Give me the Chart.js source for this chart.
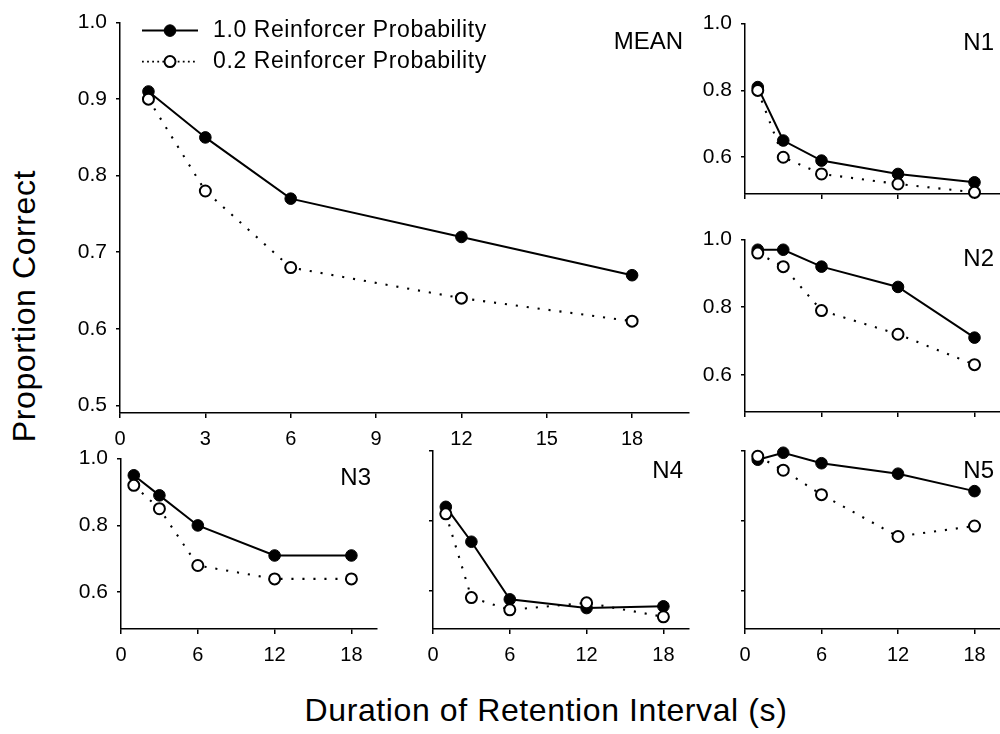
<!DOCTYPE html>
<html><head><meta charset="utf-8">
<script src="https://cdn.jsdelivr.net/npm/chart.js@4.4.1/dist/chart.umd.min.js"></script>
<style>
html,body{margin:0;padding:0;background:#fff;overflow:hidden;width:1000px;height:734px;}
#fig{position:relative;width:1000px;height:734px;overflow:hidden;background:#fff;}
#fig canvas{position:absolute;}
.title{position:absolute;font-family:"Liberation Sans",Arial,Helvetica,sans-serif;font-size:32px;line-height:1;color:#000;white-space:nowrap;letter-spacing:0.6px;}
</style></head><body>
<div id="fig">
<div class="title" style="left:546px;top:710px;transform:translate(-50%,-50%);">Duration of Retention Interval (s)</div>
<div class="title" style="left:24px;top:306px;transform:translate(-50%,-50%) rotate(-90deg);">Proportion Correct</div>
</div>
<script>
// ---- data ----
const intervals = [1, 3, 6, 12, 18];
const seriesLabels = ['1.0 Reinforcer Probability', '0.2 Reinforcer Probability'];

const meanP10 = [0.91, 0.85, 0.77, 0.72, 0.67];
const meanP02 = [0.90, 0.78, 0.68, 0.64, 0.61];
const n1P10 = [0.81, 0.65, 0.59, 0.55, 0.525];
const n1P02 = [0.80, 0.60, 0.55, 0.52, 0.495];
const n2P10 = [0.97, 0.97, 0.92, 0.86, 0.71];
const n2P02 = [0.96, 0.92, 0.79, 0.72, 0.63];
const n3P10 = [0.95, 0.89, 0.80, 0.71, 0.71];
const n3P02 = [0.92, 0.85, 0.68, 0.64, 0.64];
const n4P10 = [0.84, 0.74, 0.575, 0.55, 0.555];
const n4P02 = [0.82, 0.58, 0.545, 0.565, 0.525];
const n5P10 = [0.975, 0.995, 0.965, 0.935, 0.885];
const n5P02 = [0.985, 0.945, 0.875, 0.755, 0.785];

const meanXTicks = [0, 3, 6, 9, 12, 15, 18];
const panelXTicks = [0, 6, 12, 18];
const meanYTicks = [0.5, 0.6, 0.7, 0.8, 0.9, 1.0];
const panelYTicks = [0.6, 0.8, 1.0];

// ---- drawing ----
const FONT = '"Liberation Sans", Arial, Helvetica, sans-serif';
Chart.defaults.font.family = FONT;
Chart.defaults.color = '#000';
Chart.defaults.animation = false;

const PAD_L = 70, PAD_T = 14, PAD_R = 14, PAD_B = 50;

const panelLabelPlugin = {
  id: 'panelLabel',
  afterDraw(chart, args, opts) {
    const {ctx, chartArea: a} = chart;
    ctx.save();
    ctx.font = '24px ' + FONT;
    ctx.fillStyle = '#000';
    ctx.textAlign = 'right';
    ctx.textBaseline = 'middle';
    ctx.fillText(opts.text, a.right - 6, a.top + 20);
    ctx.restore();
  }
};

const insideLegendPlugin = {
  id: 'insideLegend',
  afterDraw(chart, args, opts) {
    if (!opts.show) return;
    const {ctx, chartArea: a} = chart;
    const ds = chart.data.datasets;
    const rows = [a.top + 8, a.top + 39];
    [ds[0], ds[1]].forEach((d, i) => {
      const y = rows[i];
      ctx.save();
      ctx.strokeStyle = '#000';
      ctx.lineWidth = i === 0 ? 2 : 1.8;
      ctx.setLineDash(i === 0 ? [] : [1.8, 3.3]);
      ctx.beginPath();
      ctx.moveTo(a.left + 22, y);
      ctx.lineTo(a.left + 78, y);
      ctx.stroke();
      ctx.setLineDash([]);
      ctx.beginPath();
      ctx.arc(a.left + 50, y, d.pointRadius, 0, Math.PI * 2);
      ctx.fillStyle = d.pointBackgroundColor;
      ctx.fill();
      ctx.lineWidth = d.pointBorderWidth;
      ctx.stroke();
      ctx.font = '23px ' + FONT;
      try { ctx.letterSpacing = '0.6px'; } catch (e) {}
      ctx.fillStyle = '#000';
      ctx.textAlign = 'left';
      ctx.textBaseline = 'middle';
      ctx.fillText(d.label, a.left + 93, y);
      ctx.restore();
    });
  }
};

function makePanel(cfg) {
  const {name, area, p10, p02, xTicks, yTicks, showX, showY, legend} = cfg;
  const w = area.right - area.left, h = area.bottom - area.top;
  const canvas = document.createElement('canvas');
  canvas.width = w + PAD_L + PAD_R;
  canvas.height = h + PAD_T + PAD_B;
  canvas.style.width = canvas.width + 'px';
  canvas.style.height = canvas.height + 'px';
  canvas.style.left = (area.left - PAD_L) + 'px';
  canvas.style.top = (area.top - PAD_T) + 'px';
  document.getElementById('fig').appendChild(canvas);

  const axisCommon = {
    type: 'linear',
    grid: {display: true, drawOnChartArea: false, drawTicks: true, color: '#000', lineWidth: 1.5},
    border: {display: true, color: '#000', width: 1.5},
  };

  return new Chart(canvas, {
    type: 'line',
    data: {
      datasets: [
        {
          label: seriesLabels[0],
          data: intervals.map((x, i) => ({x: x, y: p10[i]})),
          borderColor: '#000', backgroundColor: '#000', borderWidth: 2,
          pointRadius: 5.8, pointBorderWidth: 1, pointBackgroundColor: '#000', pointBorderColor: '#000',
          tension: 0, clip: false, order: 1
        },
        {
          label: seriesLabels[1],
          data: intervals.map((x, i) => ({x: x, y: p02[i]})),
          borderColor: '#000', backgroundColor: '#fff', borderWidth: 2.1, borderDash: [2.1, 8.9],
          pointRadius: 5.5, pointBorderWidth: 2, pointBackgroundColor: '#fff', pointBorderColor: '#000',
          tension: 0, clip: false, order: 0
        }
      ]
    },
    options: {
      responsive: false,
      animation: false,
      events: [],
      layout: {padding: {left: 0, top: PAD_T, right: PAD_R, bottom: 0}},
      plugins: {
        legend: {display: false},
        tooltip: {enabled: false},
        panelLabel: {text: name},
        insideLegend: {show: !!legend}
      },
      scales: {
        x: Object.assign({}, axisCommon, {
          min: 0, max: 20,
          grid: Object.assign({}, axisCommon.grid, {tickLength: 5}),
          afterBuildTicks: s => { s.ticks = xTicks.map(v => ({value: v})); },
          afterFit: s => { s.height = PAD_B; },
          ticks: {display: showX, font: {size: 20}, padding: 9, maxRotation: 0, autoSkip: false,
                  callback: v => String(v)}
        }),
        y: Object.assign({}, axisCommon, {
          min: 0.49, max: 1.0,
          grid: Object.assign({}, axisCommon.grid, {tickLength: 4}),
          afterBuildTicks: s => { s.ticks = yTicks.map(v => ({value: v})); },
          afterFit: s => { s.width = PAD_L; },
          ticks: {display: showY, font: {size: 21}, padding: 9, autoSkip: false,
                  callback: v => Number(v).toFixed(1)}
        })
      }
    },
    plugins: [panelLabelPlugin, insideLegendPlugin]
  });
}

makePanel({name: 'MEAN', area: {left: 120, top: 15, right: 689, bottom: 413}, p10: meanP10, p02: meanP02,
  xTicks: meanXTicks, yTicks: meanYTicks, showX: true, showY: true, legend: true});
makePanel({name: 'N1', area: {left: 745, top: 16, right: 1000, bottom: 194}, p10: n1P10, p02: n1P02,
  xTicks: panelXTicks, yTicks: panelYTicks, showX: false, showY: true});
makePanel({name: 'N2', area: {left: 745, top: 232, right: 1000, bottom: 412}, p10: n2P10, p02: n2P02,
  xTicks: panelXTicks, yTicks: panelYTicks, showX: false, showY: true});
makePanel({name: 'N3', area: {left: 121, top: 451, right: 377, bottom: 629}, p10: n3P10, p02: n3P02,
  xTicks: panelXTicks, yTicks: panelYTicks, showX: true, showY: true});
makePanel({name: 'N4', area: {left: 433, top: 451, right: 689, bottom: 629}, p10: n4P10, p02: n4P02,
  xTicks: panelXTicks, yTicks: panelYTicks, showX: true, showY: false});
makePanel({name: 'N5', area: {left: 745, top: 451, right: 1000, bottom: 629}, p10: n5P10, p02: n5P02,
  xTicks: panelXTicks, yTicks: panelYTicks, showX: true, showY: false});
</script>
</body></html>
